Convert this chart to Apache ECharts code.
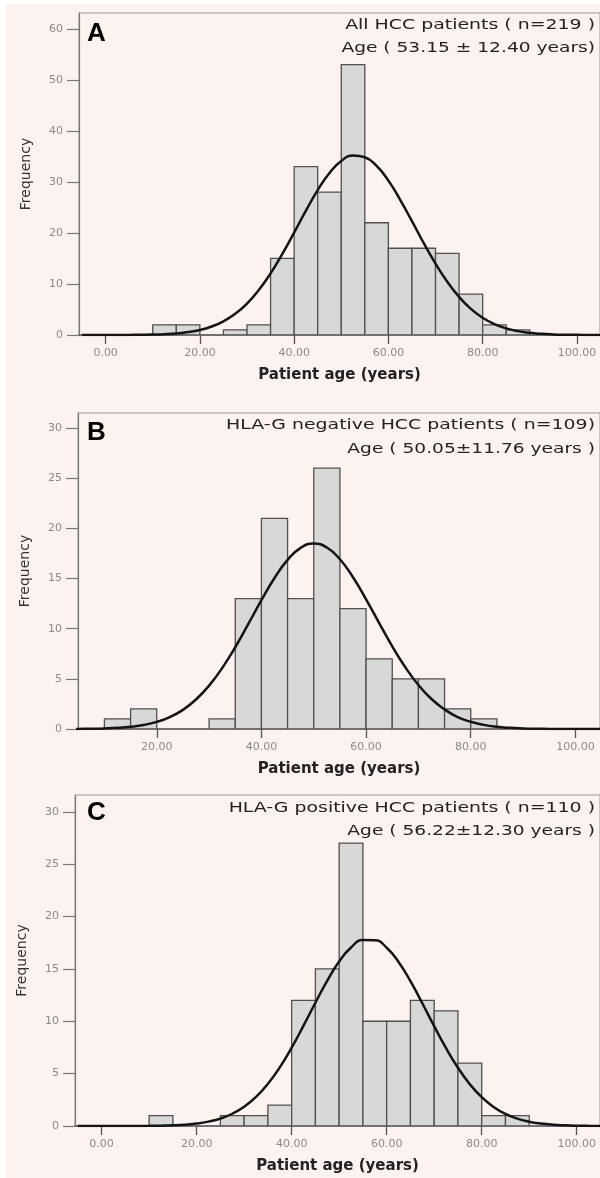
<!DOCTYPE html>
<html><head><meta charset="utf-8">
<script src="https://cdn.jsdelivr.net/npm/echarts@6/dist/echarts.min.js"></script>
<style>
html,body{margin:0;padding:0;background:#fff;}
#bg{position:absolute;left:6px;top:4px;width:594px;height:1174px;background:#fcf3f0;}
#chart{position:absolute;left:0;top:0;width:600px;height:1178px;}
</style></head><body><div id="bg"></div><div id="chart"></div>
<script>
// Histogram bins (5-year width), start of each bin
const binStarts = [10,15,20,25,30,35,40,45,50,55,60,65,70,75,80,85];
const binWidth = 5;
const countsA = [2,2,0,1,2,15,33,28,53,22,17,17,16,8,2,1];
const countsB = [1,2,0,0,1,13,21,13,26,12,7,5,5,2,1,0];
const countsC = [1,0,0,1,1,2,12,15,27,10,10,12,11,6,1,1];

// Fitted normal curves, values every 2.5 years
const curveX = [-5,-2.5,0,2.5,5,7.5,10,12.5,15,17.5,20,22.5,25,27.5,30,32.5,35,37.5,40,42.5,45,47.5,50,52.5,55,57.5,60,62.5,65,67.5,70,72.5,75,77.5,80,82.5,85,87.5,90,92.5,95,97.5,100,102.5,105];
const curveA = [0.0006,0.0015,0.004,0.008,0.02,0.04,0.08,0.16,0.31,0.57,0.99,1.66,2.68,4.15,6.17,8.81,12.07,15.9,20.08,24.36,28.39,31.75,34.11,35.18,34.84,33.13,30.25,26.5,22.31,18.0,14.0,10.43,7.46,5.12,3.38,2.14,1.30,0.76,0.42,0.23,0.12,0.06,0.03,0.013,0.006];
const curveB = [0,0.0009,0.002,0.005,0.012,0.027,0.056,0.113,0.22,0.40,0.71,1.19,1.91,2.94,4.32,6.07,8.15,10.47,12.84,15.05,16.86,18.06,18.49,18.09,16.92,15.13,12.93,10.56,8.24,6.15,4.39,2.99,1.95,1.19,0.72,0.41,0.22,0.116,0.058,0.027,0.012,0.005,0.002,0.0009,0.0003];
const curveC = [0,0.0002,0.0005,0.0013,0.003,0.007,0.015,0.032,0.065,0.126,0.23,0.42,0.71,1.17,1.84,2.78,4.03,5.60,7.48,9.58,11.77,13.88,15.70,17.04,17.75,17.74,17.02,15.66,13.83,11.72,9.53,7.43,5.56,3.99,2.75,1.82,1.15,0.70,0.41,0.23,0.12,0.064,0.03,0.015,0.007];

// Tick labels
const xTicksA = [0,20,40,60,80,100];
const xTicksB = [20,40,60,80,100];
const xTicksC = [0,20,40,60,80,100];
const yTicksA = [0,10,20,30,40,50,60];
const yTicksB = [0,5,10,15,20,25,30];
const yTicksC = [0,5,10,15,20,25,30];

const panelLetters = ['A','B','C'];
const titles1 = ['All HCC patients ( n=219 )','HLA-G negative HCC patients ( n=109)','HLA-G positive HCC patients ( n=110 )'];
const titles2 = ['Age ( 53.15 \u00b1 12.40 years)','Age ( 50.05\u00b111.76 years )','Age ( 56.22\u00b112.30 years )'];

const panels = [
  {grid:{left:79,top:13,right:0,height:322}, xmin:-5.65, xmax:104.9, ymax:63.1, counts:countsA, curve:curveA, xt:xTicksA, yt:yTicksA, t1y:25, t2y:48, ly:34},
  {grid:{left:78,top:413,right:0,height:316}, xmin:4.95, xmax:104.7, ymax:31.5, counts:countsB, curve:curveB, xt:xTicksB, yt:yTicksB, t1y:425, t2y:449, ly:433},
  {grid:{left:75,top:795,right:0,height:331}, xmin:-5.6, xmax:104.9, ymax:31.6, counts:countsC, curve:curveC, xt:xTicksC, yt:yTicksC, t1y:808, t2y:831, ly:813}
];

const FONT = 'DejaVu Sans';
const grids=[], xAxes=[], yAxes=[], series=[], graphics=[];
panels.forEach((p,i)=>{
  grids.push(Object.assign({show:true, borderColor:'#999', borderWidth:1, backgroundColor:'transparent'}, p.grid));
  xAxes.push({
    type:'value', gridIndex:i, min:p.xmin, max:p.xmax,
    axisLine:{show:true, onZero:false, lineStyle:{color:'#555', width:1.5}},
    axisTick:{show:true, customValues:p.xt, length:9, lineStyle:{color:'#555', width:1.3}},
    axisLabel:{customValues:p.xt, formatter:v=>v.toFixed(2), color:'#8a8a8a', fontSize:11, fontFamily:FONT, margin:13},
    splitLine:{show:false},
    name:'Patient age (years)', nameLocation:'middle', nameGap:33,
    nameTextStyle:{fontFamily:FONT, fontSize:15, fontWeight:'bold', color:'#222'}
  });
  yAxes.push({
    type:'value', gridIndex:i, min:0, max:p.ymax,
    axisLine:{show:true, onZero:false, lineStyle:{color:'#777', width:1.2}},
    axisTick:{show:true, customValues:p.yt, length:12, lineStyle:{color:'#777', width:1.2}},
    axisLabel:{customValues:p.yt, color:'#8a8a8a', fontSize:11, fontFamily:FONT, margin:16},
    splitLine:{show:false},
    name:'Frequency', nameLocation:'middle', nameGap:46, nameRotate:90,
    nameTextStyle:{fontFamily:FONT, fontSize:14, color:'#333'}
  });
  series.push({
    type:'custom', xAxisIndex:i, yAxisIndex:i, clip:true,
    data: binStarts.map((s,k)=>[s, s+binWidth, p.counts[k]]),
    encode:{x:[0,1], y:2},
    renderItem:function(params, api){
      const c = api.value(2);
      if (!c) return null;
      const p0 = api.coord([api.value(0), 0]);
      const p1 = api.coord([api.value(1), c]);
      return {type:'rect', shape:{x:p0[0], y:p1[1], width:p1[0]-p0[0], height:p0[1]-p1[1]},
        style:{fill:'#d8d8d8', stroke:'#505050', lineWidth:1.3}};
    }
  });
  series.push({
    type:'line', xAxisIndex:i, yAxisIndex:i, smooth:0.5, symbol:'none', clip:true, z:5,
    data: curveX.map((x,k)=>[x, p.curve[k]]),
    lineStyle:{color:'#141414', width:2.5}
  });
  graphics.push({type:'text', x:87, y:p.ly, style:{text:panelLetters[i], font:'bold 26px "Liberation Sans", Arial, sans-serif', fill:'#000', align:'left', verticalAlign:'middle'}});
  graphics.push({type:'text', x:595, y:p.t1y, scaleX:1.35, style:{text:titles1[i], font:'14px "DejaVu Sans"', fill:'#222', align:'right', verticalAlign:'middle'}});
  graphics.push({type:'text', x:595, y:p.t2y, scaleX:1.33, style:{text:titles2[i], font:'14px "DejaVu Sans"', fill:'#222', align:'right', verticalAlign:'middle'}});
});

const chart = echarts.init(document.getElementById('chart'), null, {renderer:'canvas'});
chart.setOption({
  animation:false,
  backgroundColor:'transparent',
  grid:grids, xAxis:xAxes, yAxis:yAxes, series:series, graphic:graphics
});
</script></body></html>
